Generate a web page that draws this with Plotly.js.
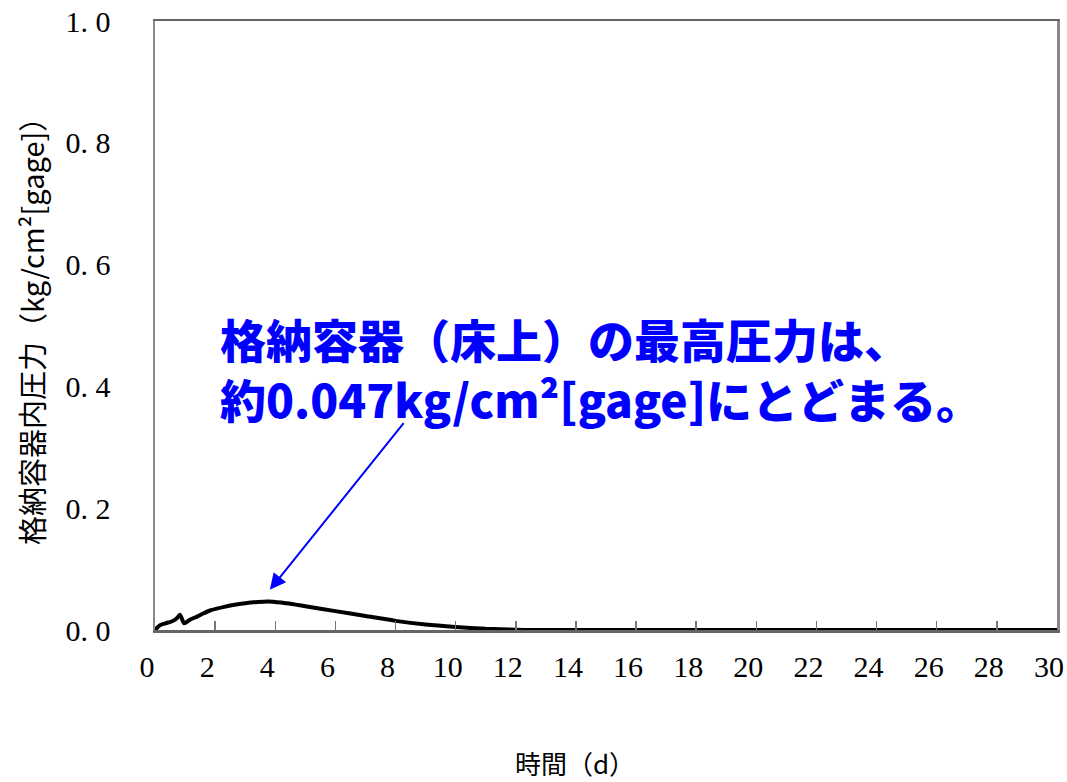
<!DOCTYPE html>
<html>
<head>
<meta charset="utf-8">
<script src="https://cdn.plot.ly/plotly-3.0.1.min.js"></script>
<style>html,body{margin:0;padding:0;background:#fff;}#chart{width:1067px;height:782px;}</style>
</head>
<body>
<div id="chart"></div>
<script>
const timeDays = [0, 0.17, 0.35, 0.55, 0.72, 0.83, 0.97, 1.16, 1.4, 1.6, 1.83, 2.05, 2.3, 2.6, 3.0, 3.4, 3.75, 4.2, 5.0, 6.0, 7.0, 8.0, 9.0, 10.0, 11.0, 12.0, 12.6, 14, 16, 18, 20, 22, 24, 26, 28, 30];
const pressure = [0, 0.008, 0.011, 0.014, 0.019, 0.025, 0.011, 0.017, 0.022, 0.027, 0.032, 0.035, 0.038, 0.041, 0.044, 0.046, 0.047, 0.045, 0.039, 0.031, 0.023, 0.015, 0.009, 0.005, 0.002, 0.0005, 0, 0, 0, 0, 0, 0, 0, 0, 0, 0];
const xTicks = [0, 2, 4, 6, 8, 10, 12, 14, 16, 18, 20, 22, 24, 26, 28, 30];
const yTicks = [0, 0.2, 0.4, 0.6, 0.8, 1.0];
const yTickLabels = ["0. 0", "0. 2", "0. 4", "0. 6", "0. 8", "1. 0"];
const yTitle = "格納容器内圧力（kg/cm²[gage]）";
const xTitle = "時間（d）";
const noteText = "格納容器（床上）の最高圧力は、<br>約0.047kg/cm²[gage]にとどまる。";
const peak = {x: 3.82, y: 0.066};
const arrowTail = {x: 8.31, y: 0.342};

const serif = "Liberation Serif, DejaVu Serif, Noto Sans CJK JP, serif";
const cjk = "Noto Sans CJK JP, Liberation Serif, serif";

const trace = {
  x: timeDays, y: pressure, type: "scatter", mode: "lines",
  line: {color: "#000", width: 4, shape: "spline", smoothing: 0.6},
  hoverinfo: "skip"
};

const layout = {
  width: 1067, height: 782,
  margin: {l: 155, r: 10, t: 21, b: 152},
  paper_bgcolor: "#fff", plot_bgcolor: "#fff",
  showlegend: false,
  font: {family: serif, color: "#000", size: 30},
  xaxis: {
    range: [0, 30], tickvals: xTicks, ticktext: xTicks.map(String),
    ticks: "inside", ticklen: 9, tickwidth: 1.5, tickcolor: "#777",
    showline: true, linecolor: "#666", linewidth: 2.5, mirror: true,
    showgrid: false, zeroline: false,
    ticklabelstandoff: 8, ticklabelshift: -8,
    tickfont: {family: serif, size: 30, color: "#000"}
  },
  yaxis: {
    range: [0, 1], tickvals: yTicks, ticktext: yTickLabels,
    ticks: "", showline: true, linecolor: "#888", linewidth: 2.5, mirror: true,
    showgrid: false, zeroline: false,
    ticklabelstandoff: 36,
    tickfont: {family: serif, size: 30, color: "#000"}
  },
  annotations: [
    {
      xref: "paper", yref: "paper", x: (31 - 155) / 902, y: (630 - 324) / 609,
      xanchor: "center", yanchor: "middle", showarrow: false, textangle: -90,
      text: yTitle, font: {family: cjk, size: 29, color: "#000"}
    },
    {
      xref: "paper", yref: "paper", x: (575 - 155) / 902, y: (630 - 762) / 609,
      xanchor: "center", yanchor: "middle", showarrow: false,
      text: xTitle, font: {family: cjk, size: 26, color: "#000"}
    },
    {
      xref: "x", yref: "y", x: peak.x, y: peak.y,
      axref: "x", ayref: "y", ax: arrowTail.x, ay: arrowTail.y,
      showarrow: true, arrowhead: 2, arrowsize: 1.6, arrowwidth: 2, arrowcolor: "#0000ff",
      text: ""
    },
    {
      xref: "x", yref: "y", x: 2.1, y: 0.43,
      xanchor: "left", yanchor: "middle", align: "left", showarrow: false,
      text: noteText,
      font: {family: "Noto Sans CJK JP, sans-serif", size: 46, color: "#0000ff", weight: 900}
    }
  ]
};

Plotly.newPlot("chart", [trace], layout, {staticPlot: true, displayModeBar: false});
</script>
</body>
</html>
